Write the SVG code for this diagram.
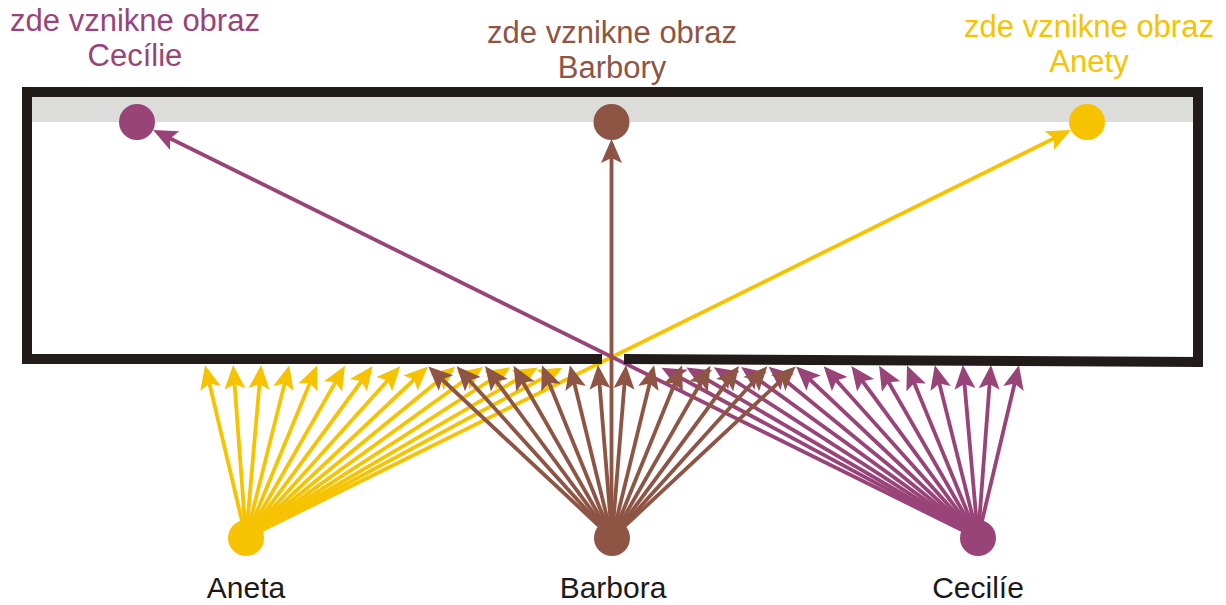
<svg xmlns="http://www.w3.org/2000/svg" width="1226" height="605" viewBox="0 0 1226 605">
<style>
.ray{stroke-width:3.8;fill:none}
.y{stroke:#f7c300;marker-end:url(#mY)}
.b{stroke:#8e5444;marker-end:url(#mB)}
.p{stroke:#984478;marker-end:url(#mP)}
.frame{fill:#211c19}
.lbl{font-family:"Liberation Sans",Arial,sans-serif;font-size:30px;text-anchor:middle}
.top{font-size:31px}
</style>
<defs>
<marker id="mY" markerUnits="userSpaceOnUse" viewBox="-20 -12 26 24" refX="0" refY="0" markerWidth="26" markerHeight="24" orient="auto"><path d="M5,0 L-19,-10.5 L-14,0 L-19,10.5 Z" fill="#f7c300"/></marker>
<marker id="mB" markerUnits="userSpaceOnUse" viewBox="-20 -12 26 24" refX="0" refY="0" markerWidth="26" markerHeight="24" orient="auto"><path d="M5,0 L-19,-10.5 L-14,0 L-19,10.5 Z" fill="#8e5444"/></marker>
<marker id="mP" markerUnits="userSpaceOnUse" viewBox="-20 -12 26 24" refX="0" refY="0" markerWidth="26" markerHeight="24" orient="auto"><path d="M5,0 L-19,-10.5 L-14,0 L-19,10.5 Z" fill="#984478"/></marker>
</defs>
<rect width="1226" height="605" fill="#ffffff"/>
<rect x="32" y="97" width="1161" height="25" fill="#dcdcda"/>
<g id="connectors">
<g class="ray y">
<line x1="246" y1="538" x2="206.2" y2="370"/>
<line x1="246" y1="538" x2="233.5" y2="370"/>
<line x1="246" y1="538" x2="260.7" y2="370"/>
<line x1="246" y1="538" x2="288" y2="370"/>
<line x1="246" y1="538" x2="315.2" y2="370"/>
<line x1="246" y1="538" x2="342.5" y2="370"/>
<line x1="246" y1="538" x2="369.7" y2="370"/>
<line x1="246" y1="538" x2="397" y2="370"/>
<line x1="246" y1="538" x2="424.3" y2="370"/>
<line x1="246" y1="538" x2="451.5" y2="370"/>
<line x1="246" y1="538" x2="478.8" y2="370"/>
<line x1="246" y1="538" x2="506.1" y2="370"/>
<line x1="246" y1="538" x2="533.3" y2="370"/>
<line x1="246" y1="538" x2="558" y2="370"/>
<line x1="246" y1="538" x2="1066.4" y2="132.2"/>
</g>
<g class="ray p">
<line x1="978" y1="538" x2="666" y2="370"/>
<line x1="978" y1="538" x2="690.7" y2="370"/>
<line x1="978" y1="538" x2="718" y2="370"/>
<line x1="978" y1="538" x2="745.2" y2="370"/>
<line x1="978" y1="538" x2="772.5" y2="370"/>
<line x1="978" y1="538" x2="799.8" y2="370"/>
<line x1="978" y1="538" x2="827" y2="370"/>
<line x1="978" y1="538" x2="854.3" y2="370"/>
<line x1="978" y1="538" x2="881.6" y2="370"/>
<line x1="978" y1="538" x2="908.9" y2="370"/>
<line x1="978" y1="538" x2="936" y2="370"/>
<line x1="978" y1="538" x2="963.3" y2="370"/>
<line x1="978" y1="538" x2="990.6" y2="370"/>
<line x1="978" y1="538" x2="1017.8" y2="370"/>
<line x1="978" y1="538" x2="157.6" y2="132.2"/>
</g>
<g class="ray b">
<line x1="612" y1="538" x2="432" y2="370"/>
<line x1="612" y1="538" x2="460" y2="370"/>
<line x1="612" y1="538" x2="488" y2="370"/>
<line x1="612" y1="538" x2="516" y2="370"/>
<line x1="612" y1="538" x2="543.8" y2="370"/>
<line x1="612" y1="538" x2="571.1" y2="370"/>
<line x1="612" y1="538" x2="598.4" y2="370"/>
<line x1="612" y1="538" x2="625.6" y2="370"/>
<line x1="612" y1="538" x2="652.9" y2="370"/>
<line x1="612" y1="538" x2="680.2" y2="370"/>
<line x1="612" y1="538" x2="708" y2="370"/>
<line x1="612" y1="538" x2="736" y2="370"/>
<line x1="612" y1="538" x2="764" y2="370"/>
<line x1="612" y1="538" x2="792" y2="370"/>
<line x1="611.5" y1="538" x2="611.5" y2="144"/>
</g>
</g>
<g id="screen">
<rect class="frame" x="22" y="87" width="1181" height="10"/>
<rect class="frame" x="22" y="87" width="10" height="277"/>
<rect class="frame" x="1193" y="87" width="10" height="280"/>
<rect class="frame" x="22" y="354" width="580" height="10"/>
<polygon class="frame" points="624,354 1203,357 1203,367 624,364"/>
</g>
<g id="image-cecilie">
<circle cx="137" cy="122" r="18" fill="#984478"/>
<text class="lbl top" x="135" y="31" fill="#984478">zde vznikne obraz</text>
<text class="lbl top" x="135" y="66" fill="#984478">Cecílie</text>
</g>
<g id="image-barbory">
<circle cx="611.5" cy="122" r="18" fill="#8e5444"/>
<text class="lbl top" x="612" y="43" fill="#8e5444">zde vznikne obraz</text>
<text class="lbl top" x="612" y="78" fill="#8e5444">Barbory</text>
</g>
<g id="image-anety">
<circle cx="1087" cy="122" r="18" fill="#f7c300"/>
<text class="lbl top" x="1089" y="37" fill="#f7c300">zde vznikne obraz</text>
<text class="lbl top" x="1089" y="72" fill="#f7c300">Anety</text>
</g>
<g id="aneta">
<circle cx="246" cy="538" r="18" fill="#f7c300"/>
<text class="lbl" x="246" y="598" fill="#1a1a1a">Aneta</text>
</g>
<g id="barbora">
<circle cx="612" cy="538" r="18" fill="#8e5444"/>
<text class="lbl" x="613" y="598" fill="#1a1a1a">Barbora</text>
</g>
<g id="cecilie">
<circle cx="978" cy="538" r="18" fill="#984478"/>
<text class="lbl" x="978" y="598" fill="#1a1a1a">Cecilíe</text>
</g>
</svg>
